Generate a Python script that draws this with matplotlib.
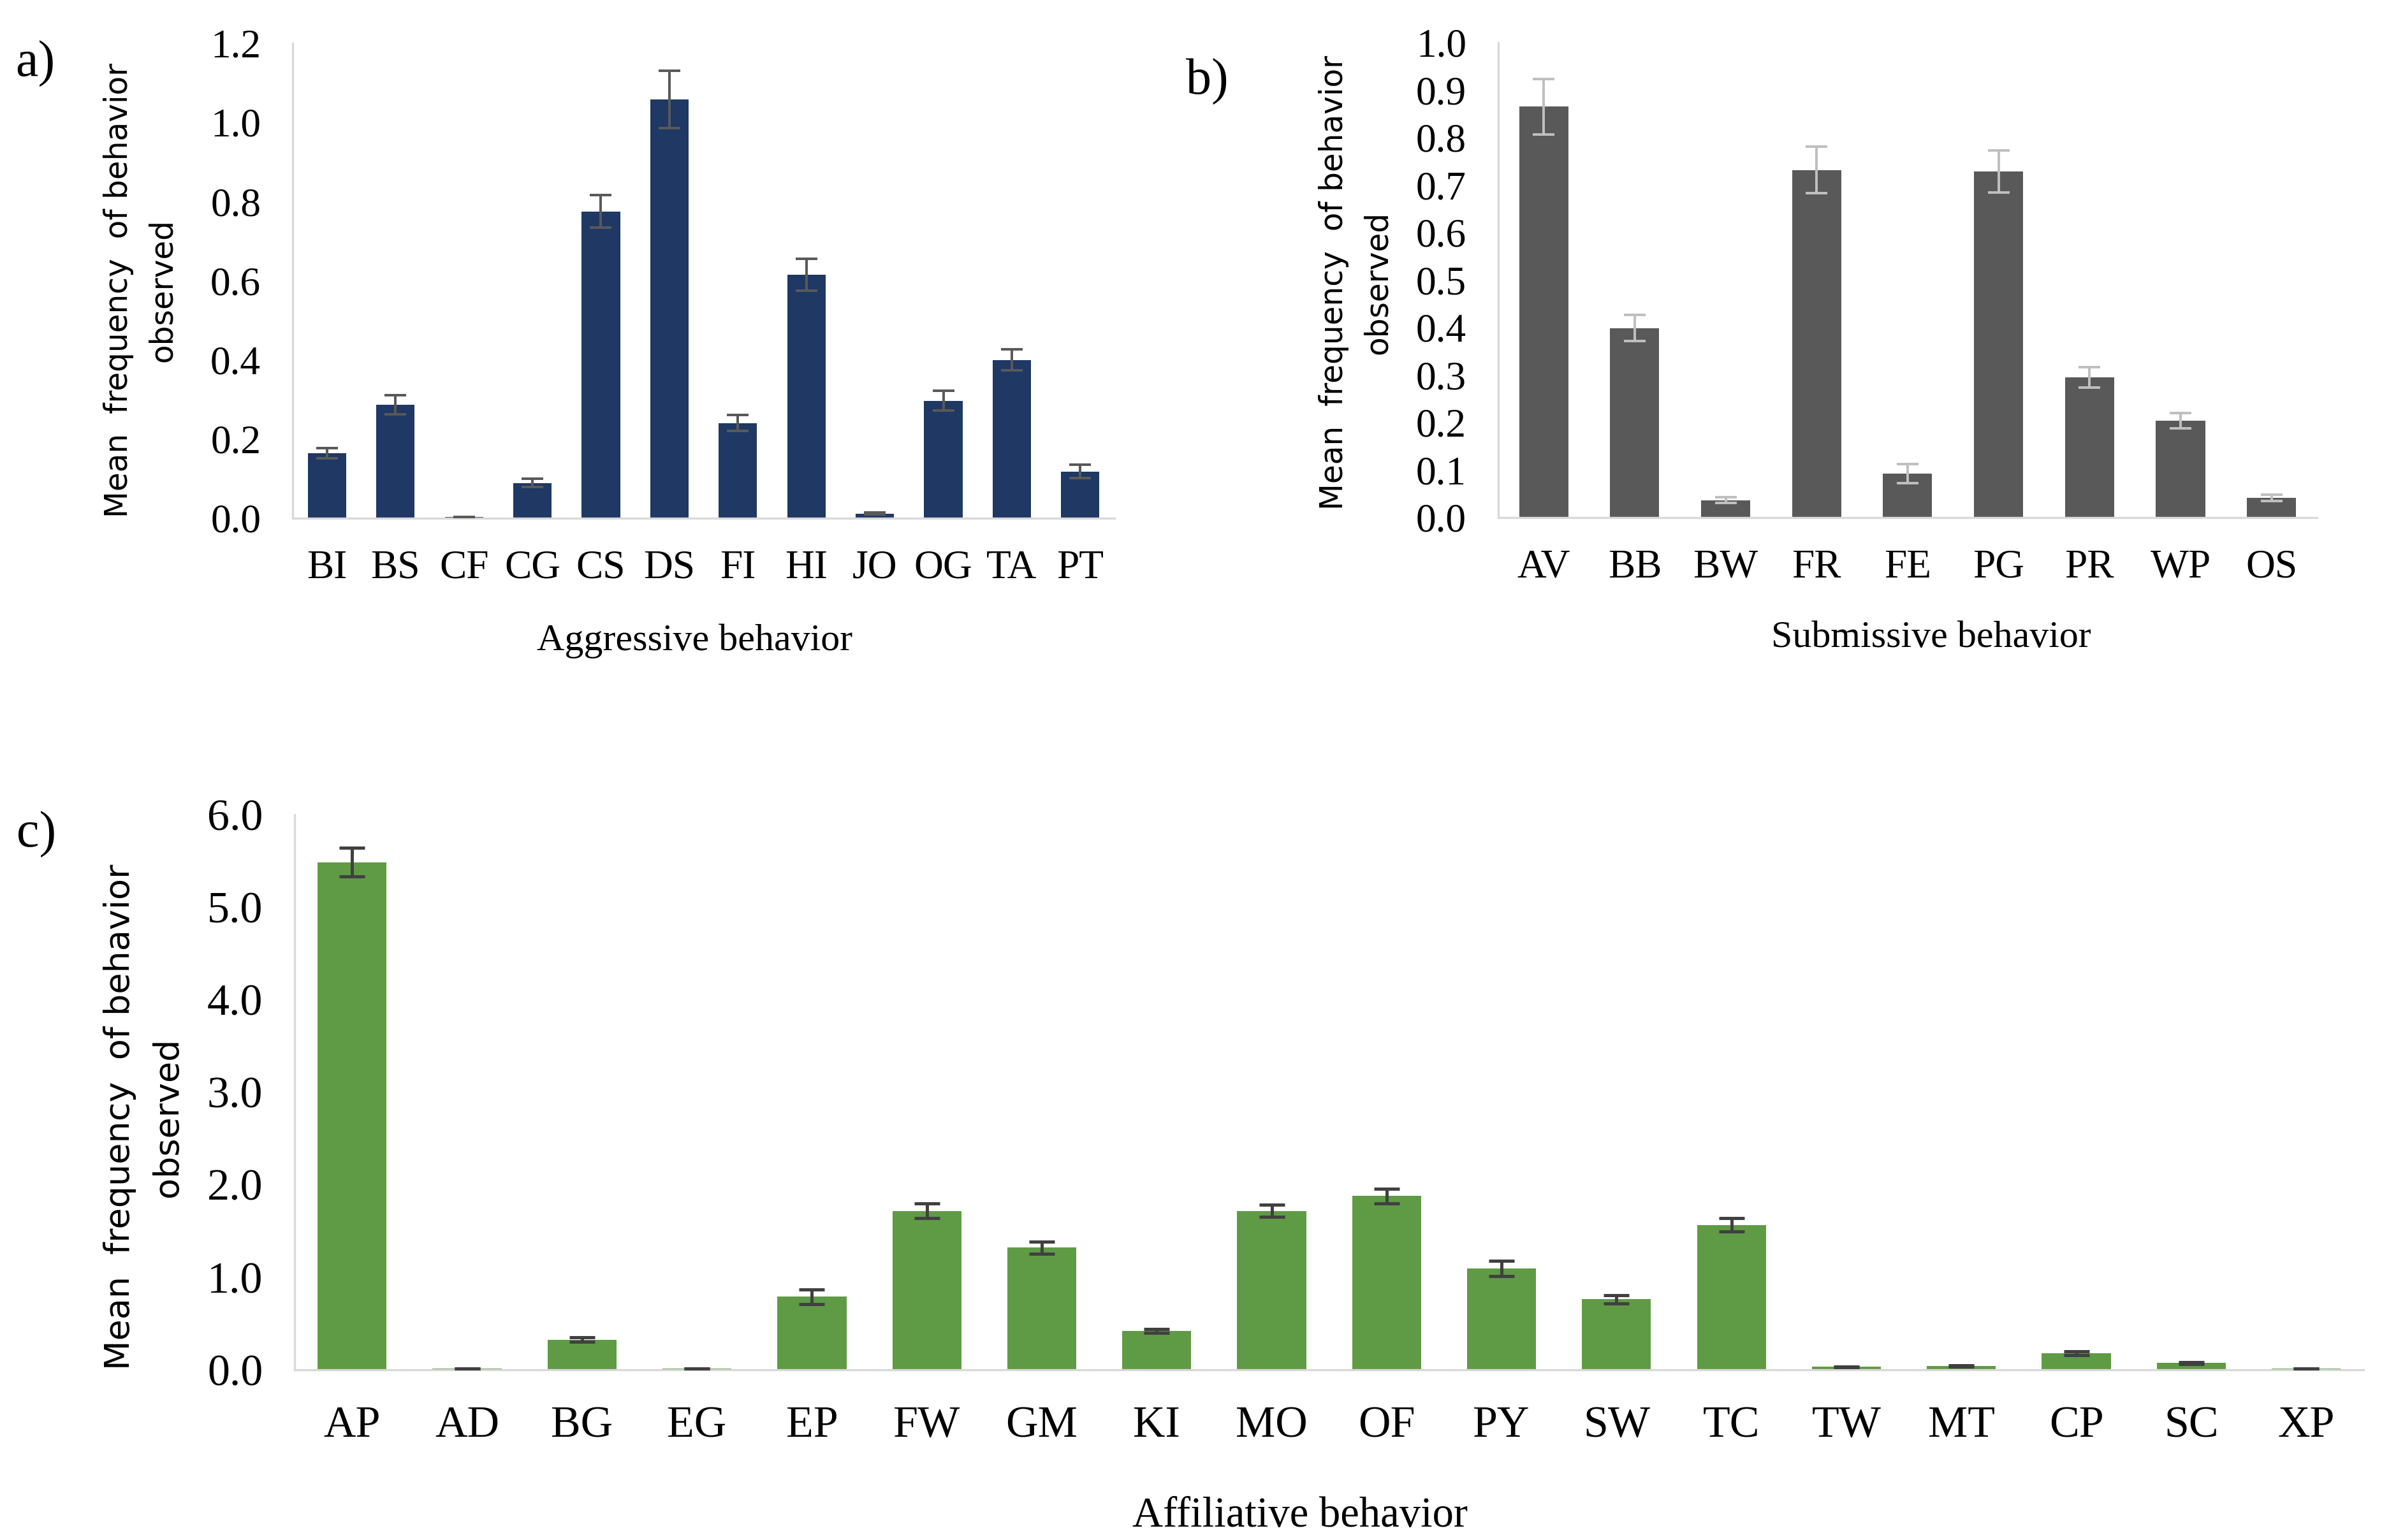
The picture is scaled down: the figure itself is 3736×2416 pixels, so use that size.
import matplotlib
matplotlib.use("Agg")
import matplotlib.pyplot as plt
import numpy as np

# panel a - aggressive
aggr_labels = ["BI", "BS", "CF", "CG", "CS", "DS", "FI", "HI", "JO", "OG", "TA", "PT"]
aggr_mean = [0.164, 0.286, 0.003, 0.089, 0.775, 1.058, 0.240, 0.615, 0.012, 0.297, 0.400, 0.118]
aggr_err = [0.013, 0.024, 0.0, 0.010, 0.041, 0.072, 0.020, 0.040, 0.003, 0.025, 0.026, 0.017]

# panel b - submissive
subm_labels = ["AV", "BB", "BW", "FR", "FE", "PG", "PR", "WP", "OS"]
subm_mean = [0.865, 0.399, 0.036, 0.732, 0.092, 0.729, 0.295, 0.204, 0.041]
subm_err = [0.058, 0.027, 0.006, 0.049, 0.020, 0.044, 0.022, 0.016, 0.007]

# panel c - affiliative
affi_labels = ["AP", "AD", "BG", "EG", "EP", "FW", "GM", "KI", "MO", "OF",
               "PY", "SW", "TC", "TW", "MT", "CP", "SC", "XP"]
affi_mean = [5.485, 0.016, 0.327, 0.014, 0.79, 1.717, 1.32, 0.419, 1.717, 1.878,
             1.095, 0.762, 1.567, 0.032, 0.043, 0.177, 0.075, 0.014]
affi_err = [0.155, 0.0, 0.027, 0.0, 0.08, 0.08, 0.065, 0.02, 0.065, 0.08,
            0.08, 0.043, 0.07, 0.006, 0.008, 0.02, 0.01, 0.0]

plt.rcParams['font.family'] = ['Liberation Serif', 'DejaVu Serif']

fig = plt.figure(figsize=(3736 / 240, 2416 / 240), dpi=240)


def panel(rect, labels, means, errs, color, ecolor, ymax, step, xlabel,
          width, ylab_xy, xlab_xy, xpad, fs=19, yfs=14.6, cap=5, elw=1.2):
    ax = fig.add_axes(rect)
    x = np.arange(len(labels))
    ax.bar(x, means, width=width, color=color, zorder=2)
    ax.errorbar(x, means, yerr=errs, fmt='none', ecolor=ecolor,
                elinewidth=elw, capsize=cap, capthick=elw, zorder=3)
    ax.set_xlim(-0.5, len(labels) - 0.5)
    ax.set_ylim(0, ymax)
    ticks = np.arange(0, ymax + step / 2, step)
    ax.set_yticks(ticks)
    ax.set_yticklabels([f'{t:.1f}' for t in ticks])
    ax.set_xticks(x)
    ax.set_xticklabels(labels)
    for s in ['top', 'right']:
        ax.spines[s].set_visible(False)
    for s in ['left', 'bottom']:
        ax.spines[s].set_color('#d9d9d9')
        ax.spines[s].set_linewidth(1.0)
    ax.tick_params(axis='y', length=0, pad=15, labelsize=fs)
    ax.tick_params(axis='x', length=0, pad=xpad, labelsize=fs)
    ax.set_ylabel('Mean  frequency  of behavior\nobserved', family='DejaVu Sans',
                  fontsize=yfs, linespacing=1.55)
    ax.yaxis.set_label_coords(*ylab_xy)
    ax.yaxis.label.set_verticalalignment('center')
    ax.set_xlabel(xlabel, fontsize=fs - 1)
    ax.xaxis.set_label_coords(*xlab_xy)
    ax.xaxis.label.set_verticalalignment('center')
    return ax


panel([0.1229, 0.6635, 0.345, 0.3085], aggr_labels, aggr_mean, aggr_err,
      '#1f3864', '#595959', 1.2, 0.2, 'Aggressive behavior', 0.56,
      (-0.185, 0.48), (0.489, -0.259), 15)
panel([0.629, 0.664, 0.3437, 0.3083], subm_labels, subm_mean, subm_err,
      '#595959', '#bfbfbf', 1.0, 0.1, 'Submissive behavior', 0.54,
      (-0.174, 0.495), (0.529, -0.254), 15)
panel([0.1237, 0.1105, 0.8686, 0.3605], affi_labels, affi_mean, affi_err,
      '#5f9b45', '#404040', 6.0, 1.0, 'Affiliative behavior', 0.6,
      (-0.073, 0.455), (0.486, -0.263), 17, fs=21, yfs=16.2, cap=6, elw=1.5)

fig.text(55 / 3736, 1 - 100 / 2416, 'a)', fontsize=24, ha='center', va='center')
fig.text(1893 / 3736, 1 - 128 / 2416, 'b)', fontsize=24, ha='center', va='center')
fig.text(57 / 3736, 1 - 1309 / 2416, 'c)', fontsize=24, ha='center', va='center')

fig.savefig('out.png', dpi=240)
